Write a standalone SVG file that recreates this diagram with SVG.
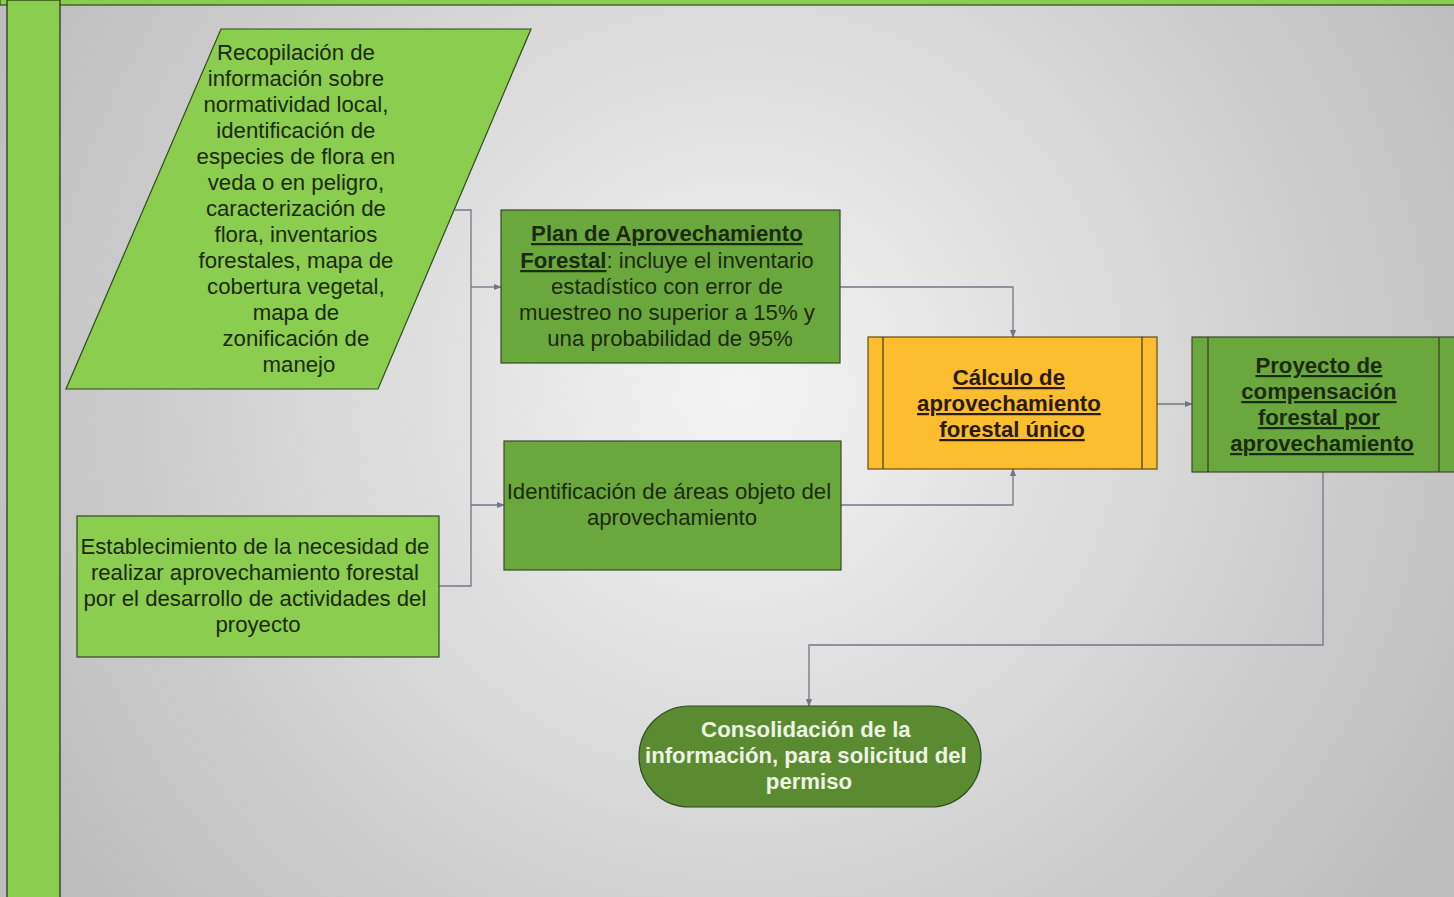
<svg xmlns="http://www.w3.org/2000/svg" width="1454" height="897" viewBox="0 0 1454 897" font-family="Liberation Sans, Arial, Helvetica, sans-serif">
<defs>
<radialGradient id="bg" cx="740" cy="390" r="820" gradientUnits="userSpaceOnUse">
<stop offset="0" stop-color="#f4f4f4"/>
<stop offset="0.55" stop-color="#d6d6d6"/>
<stop offset="1" stop-color="#bdbdbd"/>
</radialGradient>
<marker id="arr" viewBox="0 0 10 10" refX="9" refY="5" markerWidth="8" markerHeight="8" markerUnits="userSpaceOnUse" orient="auto">
<path d="M0,1 L10,5 L0,9 z" fill="#757588"/>
</marker>
<style>
.lg{fill:#8acd4f;stroke:#2f4a1e;stroke-width:1.2}
.mg{fill:#6aa83d;stroke:#3a4a2a;stroke-width:1.2}
.dg{fill:#5a8b31;stroke:#2f4a1e;stroke-width:1.2}
.og{fill:#fcbd2f;stroke:#6a4a10;stroke-width:1.2}
.in{stroke:#3a3a20;stroke-width:1.2;fill:none}
.t{font-size:22.2px;fill:#1c2a12;text-anchor:middle}
.b{font-weight:bold;text-decoration:underline}
.w{font-size:22.2px;font-weight:bold;fill:#eef4e4;text-anchor:middle}
.c{fill:none;stroke:#757588;stroke-width:1.3}
</style>
</defs>
<rect x="0" y="0" width="1454" height="897" fill="url(#bg)"/>
<g id="frame">
<rect x="0" y="-2" width="1456" height="7" fill="#8acd4f" stroke="#2f4a1e" stroke-width="1.2"/>
<rect x="7" y="0" width="53" height="899" fill="#8acd4f" stroke="#1e3012" stroke-width="1.2"/>
</g>
<g id="connectors">
<polyline class="c" points="455,210 471,210 471,586 439,586"/>
<line class="c" x1="471" y1="287" x2="501" y2="287" marker-end="url(#arr)"/>
<line class="c" x1="471" y1="505" x2="504" y2="505" marker-end="url(#arr)"/>
<polyline class="c" points="840,287 1013,287 1013,337" marker-end="url(#arr)"/>
<polyline class="c" points="841,505 1013,505 1013,469" marker-end="url(#arr)"/>
<line class="c" x1="1157" y1="404" x2="1192" y2="404" marker-end="url(#arr)"/>
<polyline class="c" points="1323,472 1323,645 809,645 809,706" marker-end="url(#arr)"/>
</g>
<g id="recopilacion">
<polygon class="lg" points="221,29 531,29 378,389 66,389"/>
<text class="t">
<tspan x="299" y="60">Recopilación de</tspan>
<tspan x="299" y="86">información sobre</tspan>
<tspan x="299" y="112">normatividad local,</tspan>
<tspan x="299" y="138">identificación de</tspan>
<tspan x="299" y="164">especies de flora en</tspan>
<tspan x="299" y="190">veda o en peligro,</tspan>
<tspan x="299" y="216">caracterización de</tspan>
<tspan x="299" y="242">flora, inventarios</tspan>
<tspan x="299" y="268">forestales, mapa de</tspan>
<tspan x="299" y="294">cobertura vegetal,</tspan>
<tspan x="299" y="320">mapa de</tspan>
<tspan x="299" y="346">zonificación de</tspan>
<tspan x="299" y="372">manejo</tspan>
</text>
</g>
<g id="plan">
<rect class="mg" x="501" y="210" width="339" height="153"/>
<text class="t">
<tspan x="670" y="241" class="b">Plan de Aprovechamiento</tspan>
<tspan x="670" y="268"><tspan class="b">Forestal</tspan>: incluye el inventario</tspan>
<tspan x="670" y="294">estadístico con error de</tspan>
<tspan x="670" y="320">muestreo no superior a 15% y</tspan>
<tspan x="670" y="346">una probabilidad de 95%</tspan>
</text>
</g>
<g id="identificacion">
<rect class="mg" x="504" y="441" width="337" height="129"/>
<text class="t">
<tspan x="672" y="499">Identificación de áreas objeto del</tspan>
<tspan x="672" y="525">aprovechamiento</tspan>
</text>
</g>
<g id="establecimiento">
<rect class="lg" x="77" y="516" width="362" height="141"/>
<text class="t">
<tspan x="258" y="554">Establecimiento de la necesidad de</tspan>
<tspan x="258" y="580">realizar aprovechamiento forestal</tspan>
<tspan x="258" y="606">por el desarrollo de actividades del</tspan>
<tspan x="258" y="632">proyecto</tspan>
</text>
</g>
<g id="calculo">
<rect class="og" x="868" y="337" width="289" height="132"/>
<line class="in" x1="883" y1="337" x2="883" y2="469"/>
<line class="in" x1="1142" y1="337" x2="1142" y2="469"/>
<text class="t" style="fill:#2a1a08">
<tspan x="1012" y="385" class="b">Cálculo de</tspan>
<tspan x="1012" y="411" class="b">aprovechamiento</tspan>
<tspan x="1012" y="437" class="b">forestal único</tspan>
</text>
</g>
<g id="proyecto">
<rect class="mg" x="1192" y="337" width="264" height="135"/>
<line class="in" x1="1208" y1="337" x2="1208" y2="472"/>
<line class="in" x1="1439" y1="337" x2="1439" y2="472"/>
<text class="t">
<tspan x="1322" y="373" class="b">Proyecto de</tspan>
<tspan x="1322" y="399" class="b">compensación</tspan>
<tspan x="1322" y="425" class="b">forestal por</tspan>
<tspan x="1322" y="451" class="b">aprovechamiento</tspan>
</text>
</g>
<g id="consolidacion">
<rect class="dg" x="639" y="706" width="342" height="101" rx="50.5" ry="50.5"/>
<text class="w">
<tspan x="809" y="737">Consolidación de la</tspan>
<tspan x="809" y="763">información, para solicitud del</tspan>
<tspan x="809" y="789">permiso</tspan>
</text>
</g>
</svg>
